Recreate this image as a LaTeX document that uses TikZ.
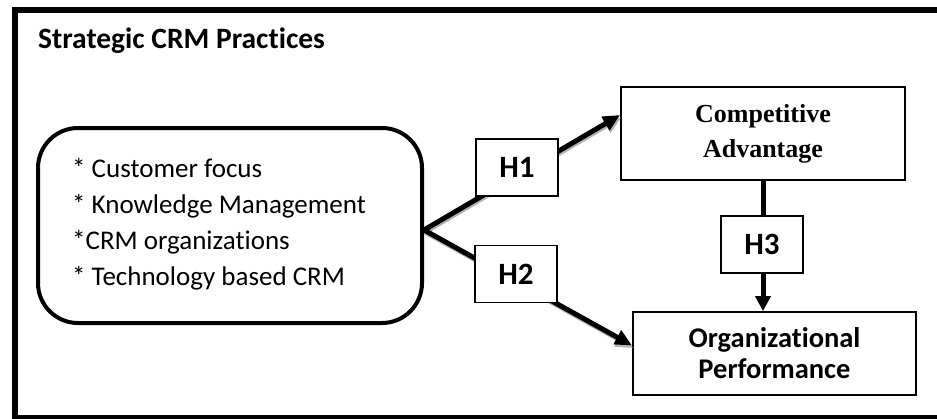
\documentclass[tikz,border=0pt]{standalone}
\usepackage{fontspec}
\setmainfont{Carlito}[Ligatures=NoCommon]
\newfontfamily\tmsfont{Liberation Serif}
\usetikzlibrary{arrows.meta,calc}
\begin{document}
\begin{tikzpicture}[x=1pt,y=-1pt,
  hbox/.style={draw, line width=1.5pt, fill=white, minimum width=82pt, minimum height=57pt, inner sep=0pt, font=\fontsize{31}{31}\selectfont\bfseries},
  conn/.style={line width=5pt, -{Triangle[length=17pt,width=15pt]},
    preaction={draw=gray!60, line width=4pt, transform canvas={xshift=1pt,yshift=-2.5pt}}},
  vconn/.style={line width=5pt, -{Triangle[length=15pt,width=15pt]}},
  itemtxt/.style={anchor=base west, inner sep=0pt, font=\fontsize{27}{27}\selectfont},
  resbox/.style={draw, line width=1.8pt, inner sep=0pt, align=center}
]
\useasboundingbox (0,0) rectangle (937,418);
\clip (0,0) rectangle (937,418);
\draw[line width=6pt] (14.5,10) rectangle (980,418);
\node[anchor=base west, inner sep=0pt, font=\fontsize{29.5}{29.5}\selectfont\bfseries] (title) at (38,48) {Strategic CRM Practices};
\node[draw, line width=4pt, rounded corners=40pt, minimum width=384pt, minimum height=195pt] (crm) at (230,225.5) {};
\node[itemtxt] (i1) at (72,177) {* Customer focus};
\node[itemtxt] (i2) at (72,213) {* Knowledge Management};
\node[itemtxt] (i3) at (72,249) {*CRM organizations};
\node[itemtxt] (i4) at (72,285) {* Technology based CRM};
\node[resbox, minimum width=284pt, minimum height=93pt, font=\tmsfont\fontsize{26}{35}\selectfont\bfseries] (ca) at (763,133.5) {Competitive\\Advantage};
\node[resbox, minimum width=283pt, minimum height=83pt, font=\fontsize{28.5}{31}\selectfont\bfseries] (op) at (774.5,353.5) {Organizational\\Performance};
\coordinate (br) at ([yshift=-4.5pt]crm.east);
\draw[conn] (br) -- ([yshift=18.5pt]ca.west);
\draw[conn] (br) -- ([yshift=8pt]op.west);
\draw[vconn] (ca.south) -- (ca.south |- op.north);
\node[hbox] (h1) at (517,167.5) {H1};
\node[hbox] (h2) at (516,274) {H2};
\node[hbox] (h3) at (762,244.5) {H3};
\end{tikzpicture}
\end{document}
